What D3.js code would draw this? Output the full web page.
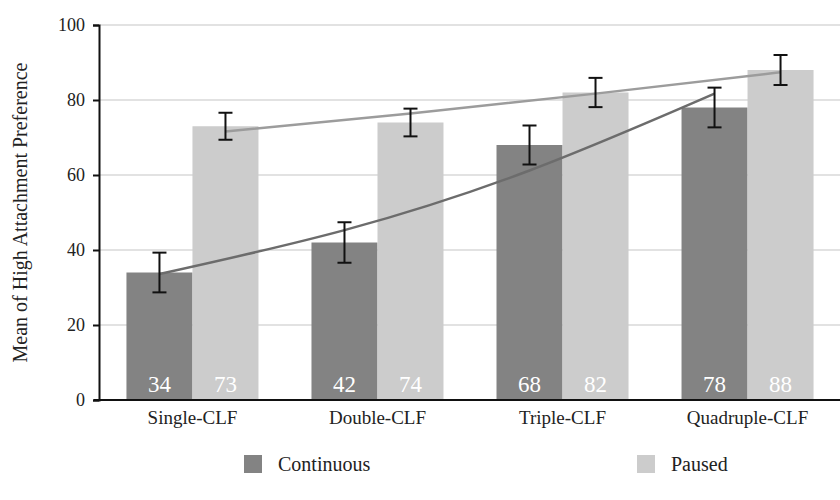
<!DOCTYPE html>
<html>
<head>
<meta charset="utf-8">
<script src="https://cdn.jsdelivr.net/npm/d3@7"></script>
<style>
  body { margin: 0; background: #fff; }
  text { font-family: "Liberation Serif", "Times New Roman", serif; }
</style>
</head>
<body>
<div class="core_div"></div>
<script>
// Data
var categories = ["Single-CLF", "Double-CLF", "Triple-CLF", "Quadruple-CLF"];
var seriesNames = ["Continuous", "Paused"];
var continuous = [34, 42, 68, 78];
var paused = [73, 74, 82, 88];
var continuousErr = [5.3, 5.4, 5.2, 5.3];
var pausedErr = [3.6, 3.7, 3.9, 4.0];
// trend lines (read at each bar centre)
var continuousTrend = [33.6, 45.3, 61.2, 81.7];
var pausedTrend = [71.6, 76.4, 81.7, 87.4];
var yTicks = [0, 20, 40, 60, 80, 100];

var colors = {Continuous: "#838383", Paused: "#cccccc"};
var trendColors = {Continuous: "#6c6c6c", Paused: "#9c9c9c"};
var SERIF = "'Liberation Serif', 'Times New Roman', serif";

var W = 840, H = 500;
var margin = {top: 25, left: 100, right: 0, bottom: 100};

var svg = d3.select(".core_div").append("svg")
    .attr("width", W)
    .attr("height", H)
    .attr("font-family", SERIF);

// scales
var x0 = d3.scaleBand()
    .domain(categories)
    .range([margin.left, W - margin.right])
    .paddingInner(0.2865)
    .paddingOuter(0.143);

var x1 = d3.scaleBand()
    .domain(seriesNames)
    .range([0, x0.bandwidth()]);

var y = d3.scaleLinear()
    .domain([0, 100])
    .range([H - margin.bottom, margin.top]);

var series = seriesNames.map(function(name, i) {
  var vals = i === 0 ? continuous : paused;
  var errs = i === 0 ? continuousErr : pausedErr;
  var trend = i === 0 ? continuousTrend : pausedTrend;
  return {
    name: name,
    values: categories.map(function(c, j) {
      return {cat: c, value: vals[j], err: errs[j], trend: trend[j]};
    })
  };
});

function cx(name, cat) { return x0(cat) + x1(name) + x1.bandwidth() / 2; }

// gridlines
svg.append("g")
  .selectAll("line")
  .data(yTicks.filter(function(d) { return d > 0; }))
  .enter().append("line")
    .attr("x1", margin.left)
    .attr("x2", W)
    .attr("y1", function(d) { return y(d); })
    .attr("y2", function(d) { return y(d); })
    .attr("stroke", "#d9d9d9")
    .attr("stroke-width", 1.5);

// bars
var groups = svg.append("g")
  .selectAll("g")
  .data(series)
  .enter().append("g");

groups.selectAll("rect")
  .data(function(s) { return s.values.map(function(v) { return Object.assign({name: s.name}, v); }); })
  .enter().append("rect")
    .attr("x", function(d) { return x0(d.cat) + x1(d.name); })
    .attr("y", function(d) { return y(d.value); })
    .attr("width", x1.bandwidth())
    .attr("height", function(d) { return y(0) - y(d.value); })
    .attr("fill", function(d) { return colors[d.name]; });

// value labels inside bars
groups.selectAll("text.val")
  .data(function(s) { return s.values.map(function(v) { return Object.assign({name: s.name}, v); }); })
  .enter().append("text")
    .attr("class", "val")
    .attr("x", function(d) { return cx(d.name, d.cat); })
    .attr("y", y(0) - 8)
    .attr("text-anchor", "middle")
    .attr("fill", "#fff")
    .attr("font-family", SERIF)
    .attr("font-size", 23)
    .text(function(d) { return d.value; });

// trend lines
var line = d3.line()
    .x(function(d) { return d.x; })
    .y(function(d) { return y(d.trend); })
    .curve(d3.curveNatural);

svg.append("g")
  .selectAll("path")
  .data(series)
  .enter().append("path")
    .attr("d", function(s) {
      return line(s.values.map(function(v) { return {x: cx(s.name, v.cat), trend: v.trend}; }));
    })
    .attr("fill", "none")
    .attr("stroke", function(s) { return trendColors[s.name]; })
    .attr("stroke-width", 2.5);

// error bars
var capW = 7;
var errG = svg.append("g")
  .selectAll("g")
  .data(d3.merge(series.map(function(s) {
    return s.values.map(function(v) { return Object.assign({name: s.name}, v); });
  })))
  .enter().append("g")
    .attr("stroke", "#111")
    .attr("stroke-width", 2);

errG.append("line")
    .attr("x1", function(d) { return cx(d.name, d.cat); })
    .attr("x2", function(d) { return cx(d.name, d.cat); })
    .attr("y1", function(d) { return y(d.value + d.err); })
    .attr("y2", function(d) { return y(d.value - d.err); });
errG.append("line")
    .attr("x1", function(d) { return cx(d.name, d.cat) - capW; })
    .attr("x2", function(d) { return cx(d.name, d.cat) + capW; })
    .attr("y1", function(d) { return y(d.value + d.err); })
    .attr("y2", function(d) { return y(d.value + d.err); });
errG.append("line")
    .attr("x1", function(d) { return cx(d.name, d.cat) - capW; })
    .attr("x2", function(d) { return cx(d.name, d.cat) + capW; })
    .attr("y1", function(d) { return y(d.value - d.err); })
    .attr("y2", function(d) { return y(d.value - d.err); });

// x baseline
svg.append("line")
    .attr("x1", margin.left - 6)
    .attr("x2", W)
    .attr("y1", y(0))
    .attr("y2", y(0))
    .attr("stroke", "#111")
    .attr("stroke-width", 2);

// y axis
var yAxis = svg.append("g")
    .attr("transform", "translate(" + (margin.left - 1) + ",0)")
    .call(d3.axisLeft(y).tickValues(yTicks).tickSize(6).tickSizeOuter(6).tickPadding(8));
yAxis.select(".domain").attr("stroke", "#111").attr("stroke-width", 2);
yAxis.selectAll(".tick line").attr("stroke", "#111").attr("stroke-width", 2);
yAxis.selectAll(".tick text")
    .attr("fill", "#222")
    .attr("font-family", SERIF)
    .attr("font-size", 18);

// category labels
svg.append("g")
  .selectAll("text")
  .data(categories)
  .enter().append("text")
    .attr("x", function(d) { return x0(d) + x0.bandwidth() / 2; })
    .attr("y", y(0) + 24)
    .attr("text-anchor", "middle")
    .attr("fill", "#222")
    .attr("font-size", 19)
    .text(function(d) { return d; });

// y title
svg.append("text")
    .attr("transform", "translate(27," + ((y(0) + y(100)) / 2) + ") rotate(-90)")
    .attr("text-anchor", "middle")
    .attr("fill", "#222")
    .attr("font-size", 20)
    .text("Mean of High Attachment Preference");

// legend
var legendX = [244, 637];
var legend = svg.append("g")
  .selectAll("g")
  .data(seriesNames)
  .enter().append("g")
    .attr("transform", function(d, i) { return "translate(" + legendX[i] + ",455)"; });
legend.append("rect")
    .attr("width", 18)
    .attr("height", 18)
    .attr("fill", function(d) { return colors[d]; });
legend.append("text")
    .attr("x", 34)
    .attr("y", 16)
    .attr("fill", "#222")
    .attr("font-size", 20)
    .text(function(d) { return d; });
</script>
</body>
</html>
